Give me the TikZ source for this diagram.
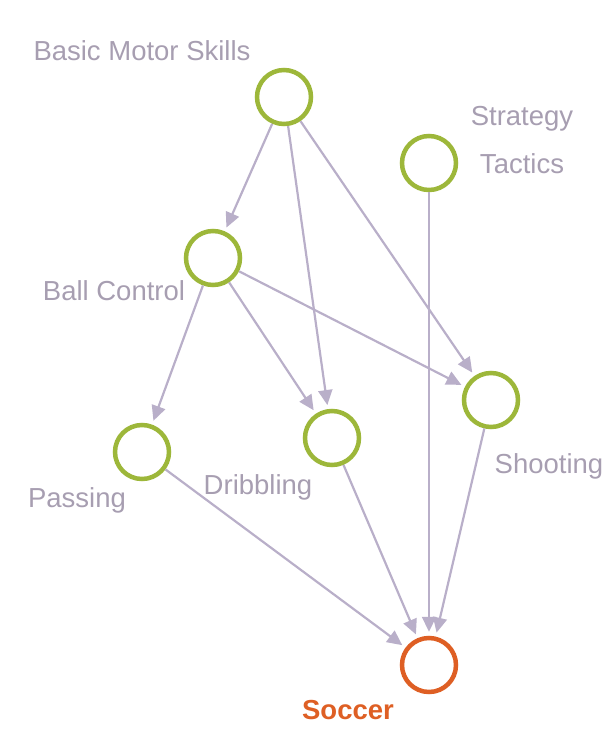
\documentclass[tikz,border=0pt]{standalone}
\usepackage{fontspec}
\setmainfont{Liberation Sans}
\usetikzlibrary{arrows.meta}
\definecolor{skillgreen}{HTML}{9DB73A}
\definecolor{goalorange}{HTML}{DE5F24}
\definecolor{linkgray}{HTML}{B9AFC9}
\definecolor{labelgray}{HTML}{A79EB1}

\begin{document}
\begin{tikzpicture}[x=1pt, y=-1pt]
	\tikzstyle{every node}=[inner sep=1pt, align=center, text=labelgray, font=\fontsize{27.5}{32}\selectfont]
	\tikzstyle{skill}=[circle, draw=skillgreen, line width=4.5pt, minimum size=54pt, inner sep=0pt]
	\tikzstyle{goal}=[skill, draw=goalorange]
	\tikzstyle{link}=[draw=linkgray, line width=2.2pt, shorten >=4pt, -{Triangle[length=15pt, width=14pt]}]
	\useasboundingbox (0,0) rectangle (616,756);
	% skills
	\node[skill] (B) at (284, 97) {};
	\node[skill] (T) at (429, 163) {};
	\node[skill] (C) at (213, 258) {};
	\node[skill] (P) at (142, 452) {};
	\node[skill] (D) at (332, 438) {};
	\node[skill] (S) at (491, 400) {};
	\node[goal] (G) at (429, 665) {};
	% labels
	\node (LB) at (142, 51) {Basic Motor Skills};
	\node[font=\fontsize{27.5}{48}\selectfont] (LT) at (522, 140) {Strategy\\Tactics};
	\node (LC) at (114, 291) {Ball Control};
	\node (LP) at (77, 500) {Passing};
	\node (LD) at (258, 487) {Dribbling};
	\node (LS) at (549, 466) {Shooting};
	\node[text=goalorange, font=\fontsize{27.5}{32}\selectfont\bfseries] (LG) at (348, 710) {Soccer};
	% links
	\draw[link] (B) -- (C);
	\draw[link] (B) -- (D);
	\draw[link] (B) -- (S);
	\draw[link] (T) -- (G);
	\draw[link] (C) -- (P);
	\draw[link] (C) -- (D);
	\draw[link] (C) -- (S);
	\draw[link] (P) -- (G);
	\draw[link] (D) -- (G);
	\draw[link] (S) -- (G);
\end{tikzpicture}
\end{document}
